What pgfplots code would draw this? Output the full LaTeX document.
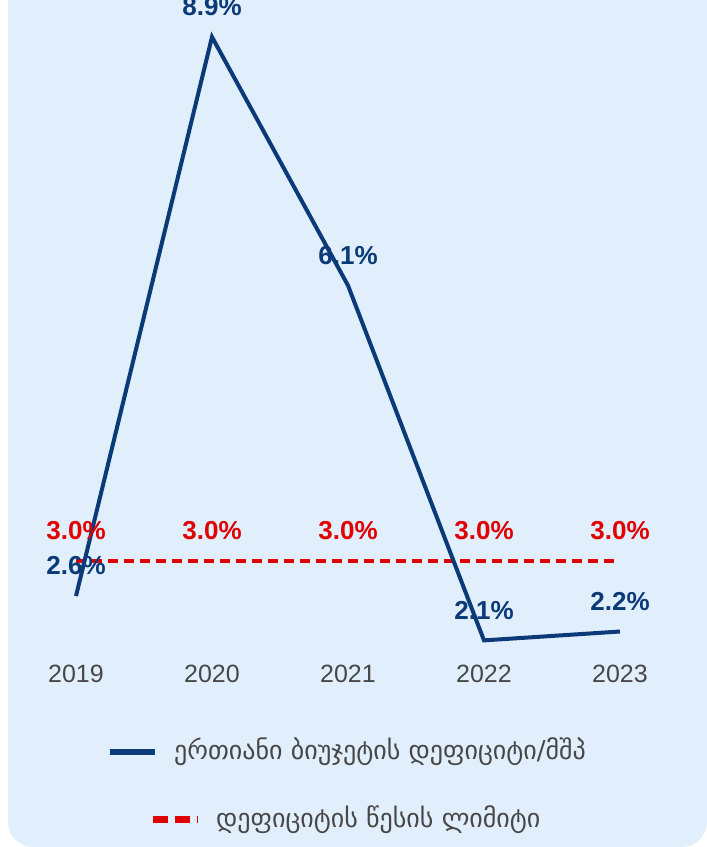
\documentclass[border=0pt]{standalone}
\usepackage{pgfplots}
\pgfplotsset{compat=1.18}
\usepackage{fontspec}
\setmainfont{Liberation Sans}
\newfontfamily\geo{DejaVu Sans}
\definecolor{bgblue}{HTML}{E1EFFC}
\definecolor{navy}{HTML}{0B3A78}
\definecolor{limred}{HTML}{E00000}
\definecolor{txtgray}{HTML}{474747}
\begin{document}
\begin{tikzpicture}[x=1pt,y=1pt]
\useasboundingbox (0,0) rectangle (707,847);
\clip (0,0) rectangle (707,847);
\fill[bgblue,rounded corners=25pt] (8,0) rectangle (707,900);
\begin{axis}[
  at={(8pt,193.3pt)}, anchor=south west,
  scale only axis, width=680pt, height=652.2pt,
  xmin=2018.5, xmax=2023.5, ymin=1.95, ymax=9.3,
  axis line style={draw=none}, major tick length=0pt,
  xtick={2019,2020,2021,2022,2023},
  xticklabels={2019,2020,2021,2022,2023},
  ytick=\empty,
  xticklabel style={font=\fontsize{25}{28}\selectfont, text=txtgray, yshift=-8pt},
  clip=false,
  point meta=explicit symbolic,
  nodes near coords,
  every node near coord/.append style={anchor=center, yshift=30pt, font=\bfseries\fontsize{26}{30}\selectfont},
]
\addplot[limred, line width=4pt, dash pattern=on 10pt off 6pt, nodes near coords style={text=limred}]
  coordinates {(2019,3.0) [3.0\%] (2020,3.0) [3.0\%] (2021,3.0) [3.0\%] (2022,3.0) [3.0\%] (2023,3.0) [3.0\%]};
\addplot[navy, line width=4pt, nodes near coords style={text=navy}]
  coordinates {(2019,2.6) [2.6\%] (2020,8.9) [8.9\%] (2021,6.1) [6.1\%] (2022,2.1) [2.1\%] (2023,2.2) [2.2\%]};
\end{axis}
% legend
\draw[navy, line width=6pt] (110,95) -- (155,95);
\node[anchor=west, inner sep=0pt, text=txtgray, font=\geo\fontsize{26}{30}\selectfont] at (174,95) {ერთიანი ბიუჯეტის დეფიციტი/მშპ};
\draw[limred, line width=7pt, dash pattern=on 15pt off 7pt] (153,27) -- (198,27);
\node[anchor=west, inner sep=0pt, text=txtgray, font=\geo\fontsize{26}{30}\selectfont] at (216,27) {დეფიციტის წესის ლიმიტი};
\end{tikzpicture}
\end{document}
